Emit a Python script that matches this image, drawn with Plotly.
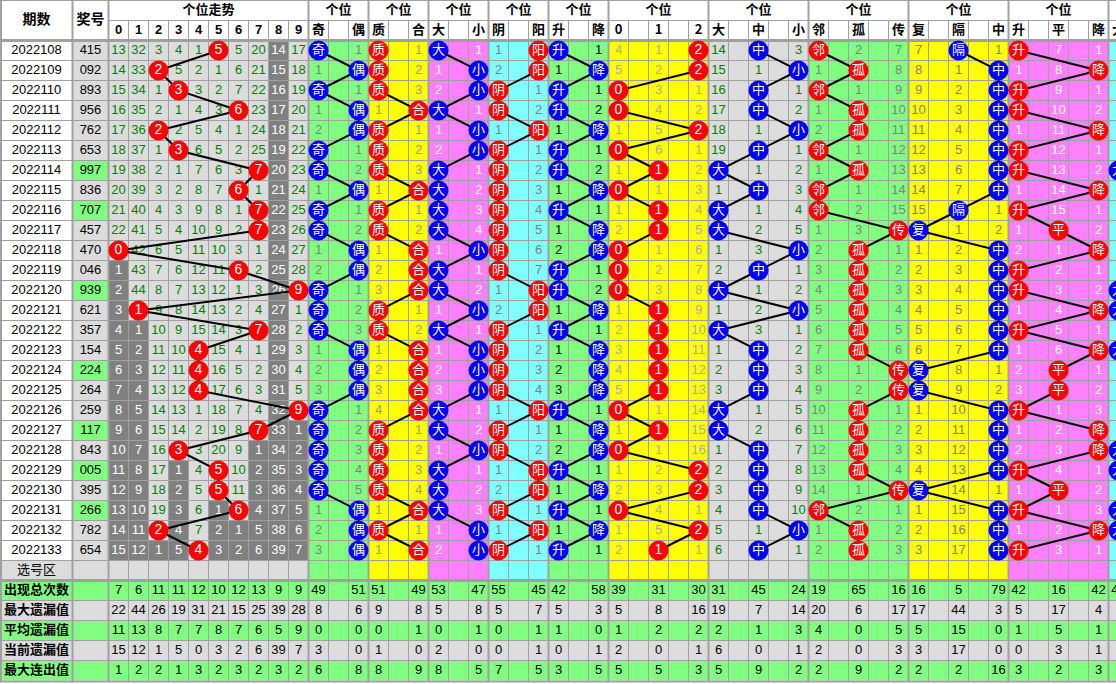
import plotly.graph_objects as go

# ---------------- data ----------------
issues = ["2022108", "2022109", "2022110", "2022111", "2022112", "2022113", "2022114",
          "2022115", "2022116", "2022117", "2022118", "2022119", "2022120", "2022121",
          "2022122", "2022123", "2022124", "2022125", "2022126", "2022127", "2022128",
          "2022129", "2022130", "2022131", "2022132", "2022133"]
draws = ["415", "092", "893", "956", "762", "653", "997", "836", "707", "457", "470", "046",
         "939", "621", "357", "154", "224", "264", "259", "117", "843", "005", "395", "266",
         "782", "654"]

# "-" marks the hit cell (drawn as a circle)
digit_rows = [
    "13 32 3 4 1 - 5 20 14 17", "14 33 - 5 2 1 6 21 15 18", "15 34 1 - 3 2 7 22 16 19",
    "16 35 2 1 4 3 - 23 17 20", "17 36 - 2 5 4 1 24 18 21", "18 37 1 - 6 5 2 25 19 22",
    "19 38 2 1 7 6 3 - 20 23", "20 39 3 2 8 7 - 1 21 24", "21 40 4 3 9 8 1 - 22 25",
    "22 41 5 4 10 9 2 - 23 26", "- 42 6 5 11 10 3 1 24 27", "1 43 7 6 12 11 - 2 25 28",
    "2 44 8 7 13 12 1 3 26 -", "3 - 9 8 14 13 2 4 27 1", "4 1 10 9 15 14 3 - 28 2",
    "5 2 11 10 - 15 4 1 29 3", "6 3 12 11 - 16 5 2 30 4", "7 4 13 12 - 17 6 3 31 5",
    "8 5 14 13 1 18 7 4 32 -", "9 6 15 14 2 19 8 - 33 1", "10 7 16 - 3 20 9 1 34 2",
    "11 8 17 1 4 - 10 2 35 3", "12 9 18 2 5 - 11 3 36 4", "13 10 19 3 6 1 - 4 37 5",
    "14 11 - 4 7 2 1 5 38 6", "15 12 1 5 - 3 2 6 39 7"]
odd_even = ["- 1", "1 -", "- 1", "1 -", "2 -", "- 1", "- 2", "1 -", "- 1", "- 2", "1 -", "2 -", "- 1",
            "- 2", "- 3", "1 -", "2 -", "3 -", "- 1", "- 2", "- 3", "- 4", "- 5", "1 -", "2 -", "3 -"]
prime_comp = ["- 1", "- 2", "- 3", "1 -", "- 1", "- 2", "- 3", "1 -", "- 1", "- 2", "1 -", "2 -", "3 -",
              "- 1", "- 2", "1 -", "2 -", "3 -", "4 -", "- 1", "- 2", "- 3", "- 4", "1 -", "- 1", "1 -"]
big_small = ["- 1", "1 -", "2 -", "- 1", "1 -", "2 -", "- 1", "- 2", "- 3", "- 4", "1 -", "- 1", "- 2",
             "1 -", "- 1", "1 -", "2 -", "3 -", "- 1", "- 2", "1 -", "- 1", "- 2", "- 3", "1 -", "2 -"]
yin_yang = ["1 -", "2 -", "- 1", "- 2", "1 -", "- 1", "- 2", "- 3", "- 4", "- 5", "- 6", "- 7", "1 -",
            "2 -", "- 1", "- 2", "- 3", "- 4", "1 -", "- 1", "- 2", "1 -", "2 -", "- 1", "1 -", "- 1"]
up_down = ["- 1", "1 -", "- 1", "- 2", "1 -", "- 1", "- 2", "1 -", "- 1", "1 -", "2 -", "- 1", "- 2",
           "1 -", "- 1", "1 -", "2 -", "3 -", "- 1", "1 -", "2 -", "- 1", "1 -", "- 1", "1 -", "- 1"]
mod3 = ["4 1 -", "5 2 -", "- 3 1", "- 4 2", "1 5 -", "- 6 1", "1 - 2", "- 1 3", "1 - 4", "2 - 5",
        "- 1 6", "- 2 7", "- 3 8", "1 - 9", "2 - 10", "3 - 11", "4 - 12", "5 - 13", "- 1 14",
        "1 - 15", "- 1 16", "1 2 -", "2 3 -", "- 4 1", "1 5 -", "2 - 1"]
big_mid_small = ["14 - 3", "15 1 -", "16 - 1", "17 - 2", "18 1 -", "19 - 1", "- 1 2", "1 - 3",
                 "- 1 4", "- 2 5", "1 3 -", "2 - 1", "- 1 2", "1 2 -", "- 3 1", "1 - 2", "2 - 3",
                 "3 - 4", "- 1 5", "- 2 6", "1 - 7", "2 - 8", "3 - 9", "4 - 10", "5 1 -", "6 - 1"]
adj_iso_rep = ["- 2 7", "1 - 8", "- 1 9", "1 - 10", "2 - 11", "- 1 12", "1 - 13", "- 1 14", "- 2 15",
               "1 3 -", "2 - 1", "3 - 2", "4 - 3", "5 - 4", "6 - 5", "7 - 6", "8 1 -", "9 2 -",
               "10 - 1", "11 - 2", "12 - 3", "13 - 4", "14 1 -", "- 2 1", "1 - 2", "2 - 3"]
rep_skip_mid = ["7 - 1", "8 1 -", "9 2 -", "10 3 -", "11 4 -", "12 5 -", "13 6 -", "14 7 -",
                "15 - 1", "- 1 2", "1 2 -", "2 3 -", "3 4 -", "4 5 -", "5 6 -", "6 7 -", "- 8 1",
                "- 9 2", "1 10 -", "2 11 -", "3 12 -", "4 13 -", "- 14 1", "1 15 -", "2 16 -", "3 17 -"]
up_flat_down = ["- 7 1", "1 8 -", "- 9 1", "- 10 2", "1 11 -", "- 12 1", "- 13 2", "1 14 -",
                "- 15 1", "1 - 2", "2 1 -", "- 2 1", "- 3 2", "1 4 -", "- 5 1", "1 6 -", "2 - 1",
                "3 - 2", "- 1 3", "1 2 -", "2 3 -", "- 4 1", "1 - 2", "- 1 3", "1 2 -", "- 3 1"]
cut_hits = [6, 12, 13, 15, 20, 21, 23, 24]

stat_labels = ["出现总次数", "最大遗漏值", "平均遗漏值", "当前遗漏值", "最大连出值"]
digit_stats = [[7, 6, 11, 11, 12, 10, 12, 13, 9, 9],
               [22, 44, 26, 19, 31, 21, 15, 25, 39, 28],
               [11, 13, 8, 7, 7, 8, 7, 6, 5, 9],
               [15, 12, 1, 5, 0, 3, 2, 6, 39, 7],
               [1, 2, 2, 1, 3, 2, 3, 2, 3, 2]]
oe_stats = [[49, 51], [8, 6], [0, 0], [3, 0], [6, 8]]
zh_stats = [[51, 49], [9, 8], [0, 1], [1, 0], [8, 9]]
dx_stats = [[53, 47], [5, 8], [0, 1], [2, 0], [8, 5]]
yy_stats = [[55, 45], [5, 7], [0, 1], [0, 1], [7, 5]]
sj_stats = [[42, 58], [5, 3], [1, 0], [0, 1], [3, 5]]
m3_stats = [[39, 31, 30], [5, 8, 16], [1, 2, 2], [2, 0, 1], [5, 5, 3]]
dzx_stats = [[31, 45, 24], [19, 7, 14], [2, 1, 3], [6, 0, 1], [5, 9, 2]]
lgc_stats = [[19, 65, 16], [20, 6, 17], [4, 0, 5], [2, 0, 3], [2, 9, 2]]
fgz_stats = [[16, 5, 79], [17, 44, 3], [5, 15, 0], [3, 17, 0], [2, 2, 16]]
spj_stats = [[42, 16, 42], [5, 17, 4], [1, 5, 1], [0, 3, 1], [3, 2, 3]]
cut_stats = ["41"]

# ---------------- style ----------------
W, H = 1116, 684
GREEN, YELLOW, PINK, CYAN = "#80ff80", "#ffff00", "#ff80ff", "#80ffff"
LGRAY, DGRAY, GRID = "#dcdcdc", "#808080", "#a0a0a0"
RED, BLUE = "#ff0000", "#0000ff"
FONT = "Liberation Sans, Noto Sans CJK SC, sans-serif"
CJK = "Noto Sans CJK SC, sans-serif"
stat_colors = [GREEN, LGRAY, GREEN, LGRAY, GREEN]

sections = [
    (["奇", "偶"], odd_even, oe_stats, GREEN, "#808080", BLUE),
    (["质", "合"], prime_comp, zh_stats, YELLOW, "#999999", RED),
    (["大", "小"], big_small, dx_stats, PINK, "#ffffff", BLUE),
    (["阴", "阳"], yin_yang, yy_stats, CYAN, "#808080", RED),
    (["升", "降"], up_down, sj_stats, GREEN, "#000000", BLUE),
    (["0", "1", "2"], mod3, m3_stats, YELLOW, "#aaaaaa", RED),
    (["大", "中", "小"], big_mid_small, dzx_stats, LGRAY, "#008000", BLUE),
    (["邻", "孤", "传"], adj_iso_rep, lgc_stats, GREEN, "#808080", RED),
    (["复", "隔", "中"], rep_skip_mid, fgz_stats, YELLOW, "#808080", BLUE),
    (["升", "平", "降"], up_flat_down, spj_stats, PINK, "#ffffff", RED),
]

X0, CW, Y0, RH = 108.5, 20, 40.5, 20
NR = len(issues)


def cx(k):
    return X0 + CW * (k + 0.5)


def cy(r):
    return Y0 + RH * (r + 0.5)


def xe(k):
    return X0 + CW * k


def ye(r):
    return Y0 + RH * r


fig = go.Figure()
shapes = []
text_traces, line_traces, circ_traces = [], [], []


def rect(x0, y0, x1, y1, color):
    shapes.append(dict(type="rect", xref="x", yref="y", x0=x0, y0=y0, x1=x1, y1=y1,
                       fillcolor=color, line=dict(width=0), layer="below"))


def hline(y, x0, x1, w=1, color=GRID):
    shapes.append(dict(type="line", xref="x", yref="y", x0=x0, x1=x1, y0=y, y1=y,
                       line=dict(color=color, width=w), layer="below"))


def vline(x, y0, y1, w=1, color=GRID):
    shapes.append(dict(type="line", xref="x", yref="y", x0=x, x1=x, y0=y0, y1=y1,
                       line=dict(color=color, width=w), layer="below"))


def txt(xs, ys, texts, color, size=13, family=FONT, weight="normal", pos="middle center"):
    text_traces.append(go.Scatter(x=xs, y=ys, text=texts, mode="text", textposition=pos,
                                  textfont=dict(color=color, size=size, family=family, weight=weight),
                                  hoverinfo="skip", showlegend=False, cliponaxis=True))


def conn(xs, ys):
    line_traces.append(go.Scatter(x=xs, y=ys, mode="lines", line=dict(color="black", width=2),
                                  hoverinfo="skip", showlegend=False))


def circles(xs, ys, labels, color, size=13, family=CJK):
    circ_traces.append(go.Scatter(x=xs, y=ys, text=labels, mode="markers+text",
                                  textposition="middle center",
                                  marker=dict(size=20, color=color, line=dict(width=0)),
                                  textfont=dict(color="white", size=size, family=family),
                                  hoverinfo="skip", showlegend=False, cliponaxis=True))


# ---------- backgrounds ----------
rect(0, 0, W, Y0, "white")
rect(0, Y0, 72.5, ye(NR), "white")
rect(0, ye(NR), 72.5, ye(NR + 1), LGRAY)
rect(72.5, Y0, X0, ye(NR + 1), LGRAY)
for r, d in enumerate(draws):
    if len(set(d)) < 3:
        rect(72.5, ye(r), X0, ye(r + 1), GREEN)
rect(X0, Y0, xe(10), ye(NR + 1), LGRAY)

# digit area
hit_col = [row.split().index("-") for row in digit_rows]
last_hit = {c: max([r for r in range(NR) if hit_col[r] == c], default=-1) for c in range(10)}
for c in range(10):
    if last_hit[c] + 1 < NR:
        rect(xe(c), ye(last_hit[c] + 1), xe(c + 1), ye(NR), DGRAY)

lx, ly, lt, dx_, dy_, dt_ = [], [], [], [], [], []
for r, row in enumerate(digit_rows):
    for c, tok in enumerate(row.split()):
        if tok == "-":
            continue
        if r > last_hit[c]:
            dx_.append(cx(c)); dy_.append(cy(r)); dt_.append(tok)
        else:
            lx.append(cx(c)); ly.append(cy(r)); lt.append(tok)
txt(lx, ly, lt, "#008000")
txt(dx_, dy_, dt_, "white")
conn([cx(c) for c in hit_col], [cy(r) for r in range(NR)])
circles([cx(c) for c in hit_col], [cy(r) for r in range(NR)], [str(c) for c in hit_col], RED, 14, FONT)

# headers (left + digits)
txt([36.5, 90.5], [20.5, 20.5], ["期数", "奖号"], "black", 14, CJK, "bold")
txt([(xe(0) + xe(10)) / 2], [10.5], ["个位走势"], "black", 13, CJK, "bold")
txt([cx(c) for c in range(10)], [30.5] * 10, [str(c) for c in range(10)], "black", 13, FONT, "bold")

# issues / draws
txt([36.5] * NR, [cy(r) for r in range(NR)], issues, "black", 13)
txt([90.5] * NR, [cy(r) for r in range(NR)], draws, "black", 13)
txt([36.5], [cy(NR)], ["选号区"], "black", 13, CJK)

# stats rows
for j, lab in enumerate(stat_labels):
    rect(0, ye(NR + 1 + j), W, ye(NR + 2 + j), stat_colors[j])
txt([4] * 5, [cy(NR + 1 + j) for j in range(5)], stat_labels, "black", 13, CJK, "bold", "middle right")
sx, sy, st = [], [], []
for j, vals in enumerate(digit_stats):
    for c, v in enumerate(vals):
        sx.append(cx(c)); sy.append(cy(NR + 1 + j)); st.append(str(v))

# ---------- sections ----------
bounds = [0, 10]
k = 10
for labels, rows, stats, bg, tc, cc in sections:
    n = 3 if len(labels) == 2 else 5
    pos = [0, 2] if n == 3 else [0, 2, 4]
    rect(xe(k), Y0, xe(k + n), ye(NR + 1), bg)
    txt([(xe(k) + xe(k + n)) / 2], [10.5], ["个位"], "black", 13, CJK, "bold")
    txt([cx(k + p) for p in pos], [30.5] * len(pos), labels, "black", 13, CJK, "bold")
    tx, ty, tt, hx, hy, ht = [], [], [], [], [], []
    for r, row in enumerate(rows):
        for i, tok in enumerate(row.split()):
            x, y = cx(k + pos[i]), cy(r)
            if tok == "-":
                hx.append(x); hy.append(y); ht.append(labels[i])
            else:
                tx.append(x); ty.append(y); tt.append(tok)
    txt(tx, ty, tt, tc)
    conn(hx, hy)
    if labels[0] == "0":
        circles(hx, hy, ht, cc, 14, FONT)
    else:
        circles(hx, hy, ht, cc)
    for j, vals in enumerate(stats):
        for i, v in enumerate(vals):
            sx.append(cx(k + pos[i])); sy.append(cy(NR + 1 + j)); st.append(str(v))
    k += n
    bounds.append(k)

# cut-off section at the right edge
rect(xe(k), Y0, W, ye(NR + 1), CYAN)
txt([cx(k)], [30.5], ["大"], "black", 13, CJK, "bold")
circles([cx(k)] * len(cut_hits), [cy(r) for r in cut_hits], ["大"] * len(cut_hits), BLUE)
sx.append(cx(k)); sy.append(cy(NR + 1)); st.append(cut_stats[0])
txt(sx, sy, st, "black", 13)

# ---------- grid lines ----------
for r in range(1, NR + 1):
    hline(ye(r), 0, W)
for j in range(1, 5):
    hline(ye(NR + 1 + j), 0, W)
hline(20.5, X0, W)
hline(0.5, 0, W, 1)
hline(Y0, 0, W, 3)
hline(ye(NR + 1), 0, W, 3)
hline(ye(NR + 6) + 1, 0, W, 2)
kk = 1
while xe(kk) < W:
    if kk not in bounds:
        vline(xe(kk), 20.5, ye(NR + 6) + 1)
    kk += 1
for b in bounds:
    vline(xe(b), 0, ye(NR + 6) + 1, 2)
vline(72.5, 0, ye(NR + 6) + 1, 2)
vline(1, 0, ye(NR + 6) + 1, 2)

for t in text_traces + line_traces + circ_traces:
    fig.add_trace(t)

fig.update_layout(
    width=W, height=H, autosize=False,
    margin=dict(l=0, r=0, t=0, b=0, pad=0),
    paper_bgcolor="white", plot_bgcolor="white",
    xaxis=dict(range=[0, W], visible=False, fixedrange=True),
    yaxis=dict(range=[H, 0], visible=False, fixedrange=True),
    shapes=shapes, showlegend=False,
)
fig.write_html("out.html", include_plotlyjs=True, full_html=True,
               config={"displayModeBar": False, "staticPlot": True},
               post_script="document.body.style.margin='0';document.body.style.overflow='hidden';")
